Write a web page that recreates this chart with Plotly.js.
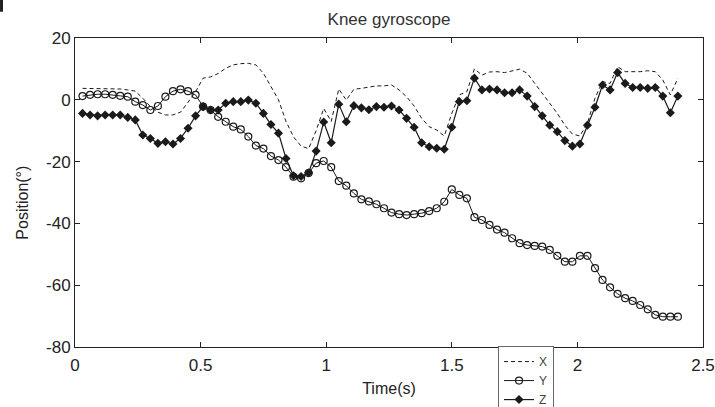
<!DOCTYPE html>
<html>
<head>
<meta charset="utf-8">
<script src="https://cdn.plot.ly/plotly-3.0.1.min.js"></script>
<style>
  html, body { margin: 0; padding: 0; background: #ffffff; }
  #chart { width: 715px; height: 407px; }
</style>
</head>
<body>
<div id="chart"></div>
<script>
// Time samples (s)
const time = [
  0.03,0.06,0.09,0.12,0.15,0.18,0.21,0.24,0.27,0.30,
  0.33,0.36,0.39,0.42,0.45,0.48,0.51,0.54,0.57,0.60,
  0.63,0.66,0.69,0.72,0.75,0.78,0.81,0.84,0.87,0.90,
  0.93,0.96,0.99,1.02,1.05,1.08,1.11,1.14,1.17,1.20,
  1.23,1.26,1.29,1.32,1.35,1.38,1.41,1.44,1.47,1.50,
  1.53,1.56,1.59,1.62,1.65,1.68,1.71,1.74,1.77,1.80,
  1.83,1.86,1.89,1.92,1.95,1.98,2.01,2.04,2.07,2.10,
  2.13,2.16,2.19,2.22,2.25,2.28,2.31,2.34,2.37,2.40
];

// X position (deg)
const seriesX = [
  3.7,3.7,3.7,3.7,3.7,3.5,3.2,2.8,0.5,-2.2,
  -4.0,-4.9,-4.9,-4.0,-0.8,2.6,7.0,7.4,8.5,10.2,
  11.3,11.7,11.8,11.3,8.6,4.5,0.0,-7.0,-12.0,-15.0,
  -15.8,-10.0,-2.8,-7.0,3.5,-0.1,3.4,3.7,4.0,4.5,
  4.5,4.8,3.2,1.0,-2.0,-6.0,-8.7,-9.8,-11.7,-4.4,
  1.6,2.6,10.0,8.0,9.0,9.1,8.8,9.4,9.9,8.6,
  5.3,2.1,-1.1,-4.4,-8.2,-11.1,-11.7,-7.6,0.5,5.9,
  5.3,10.7,9.1,9.1,9.1,9.4,9.1,6.4,1.6,7.0
];

// Y position (deg)
const seriesY = [
  1.2,1.6,1.8,1.8,1.6,1.3,1.0,-0.6,-1.7,-3.3,
  -2.0,1.0,2.8,3.4,2.8,1.6,-2.2,-3.3,-5.5,-7.1,
  -8.7,-9.6,-11.9,-14.8,-15.8,-18.2,-19.5,-21.8,-24.9,-25.4,
  -23.7,-20.5,-19.8,-21.8,-26.3,-27.8,-30.3,-32.2,-32.9,-33.8,
  -35.1,-36.5,-37.0,-37.3,-37.0,-36.7,-36.0,-35.1,-33.0,-29.0,
  -30.8,-31.9,-38.0,-38.9,-40.5,-42.0,-43.0,-44.8,-46.4,-47.0,
  -47.3,-47.5,-48.6,-50.5,-52.4,-52.4,-50.5,-50.5,-54.5,-58.3,
  -60.7,-62.8,-64.2,-65.1,-66.4,-67.8,-69.6,-70.2,-70.2,-70.2
];

// Z position (deg)
const seriesZ = [
  -4.4,-4.9,-5.2,-4.9,-4.9,-4.9,-5.7,-6.5,-11.4,-12.5,
  -14.1,-13.6,-14.3,-12.5,-9.2,-5.2,-2.2,-3.3,-3.3,-1.1,
  -0.6,-0.6,-0.1,-1.1,-4.4,-8.0,-10.8,-19.0,-24.6,-24.8,
  -23.6,-16.6,-7.2,-13.9,-1.4,-7.1,-1.9,-2.6,-3.2,-2.2,
  -2.4,-2.0,-3.3,-6.0,-8.9,-13.9,-15.2,-15.7,-16.0,-8.9,
  -0.6,-0.3,7.0,3.2,3.5,3.2,2.3,2.3,3.2,1.2,
  -2.2,-5.2,-8.2,-10.3,-13.2,-15.0,-14.3,-8.2,-2.4,4.8,
  3.2,8.8,5.3,4.0,4.0,3.7,4.0,1.2,-4.2,1.2
];

const seriesNames = ["X", "Y", "Z"];
const xTickVals = [0, 0.5, 1, 1.5, 2, 2.5];
const xTickText = ["0", "0.5", "1", "1.5", "2", "2.5"];
const yTickVals = [20, 0, -20, -40, -60, -80];
const yTickText = ["20", "0", "-20", "-40", "-60", "-80"];

const ink = "#1a1a1a";
const fontFamily = "'Liberation Sans', Arial, sans-serif";

const traces = [
  {
    x: time, y: seriesX, name: seriesNames[0], type: "scatter", mode: "lines",
    line: { color: ink, width: 1, dash: "4px,3px" }
  },
  {
    x: time, y: seriesY, name: seriesNames[1], type: "scatter", mode: "lines+markers",
    line: { color: ink, width: 1 },
    marker: { symbol: "circle-open", size: 7, color: ink, line: { width: 1.2, color: ink } }
  },
  {
    x: time, y: seriesZ, name: seriesNames[2], type: "scatter", mode: "lines+markers",
    line: { color: ink, width: 1.2 },
    marker: { symbol: "diamond", size: 7, color: ink }
  }
];

const layout = {
  width: 715, height: 407,
  paper_bgcolor: "#ffffff", plot_bgcolor: "#ffffff",
  margin: { l: 75, r: 12, t: 38, b: 60, autoexpand: false },
  font: { family: fontFamily, color: "#222", size: 16 },
  title: {
    text: "Knee gyroscope",
    font: { family: fontFamily, size: 17, color: "#333" },
    x: 0.5, xref: "paper", xanchor: "center",
    y: 0.952, yref: "container", yanchor: "middle"
  },
  xaxis: {
    range: [0, 2.5], tickvals: xTickVals, ticktext: xTickText,
    ticks: "inside", ticklen: 5, tickwidth: 1, tickcolor: "#222",
    showline: true, linecolor: "#222", linewidth: 1, mirror: "ticks",
    showgrid: false, zeroline: false, ticklabelstandoff: 3,
    tickfont: { family: fontFamily, size: 17, color: "#222" },
    title: { text: "Time(s)", font: { family: fontFamily, size: 16, color: "#222" }, standoff: 8 }
  },
  yaxis: {
    range: [-80, 20], tickvals: yTickVals, ticktext: yTickText,
    ticks: "inside", ticklen: 5, tickwidth: 1, tickcolor: "#222",
    showline: true, linecolor: "#222", linewidth: 1, mirror: "ticks",
    showgrid: false, zeroline: false,
    tickfont: { family: fontFamily, size: 17, color: "#222" }
  },
  annotations: [
    {
      text: "Position(°)", xref: "paper", yref: "paper",
      x: -0.084, y: 0.468, xanchor: "center", yanchor: "middle",
      textangle: -90, showarrow: false,
      font: { family: fontFamily, size: 16, color: "#222" }
    }
  ],
  shapes: [
    {
      type: "rect", xref: "paper", yref: "paper",
      x0: -0.1194, x1: -0.1146, y0: 1.085, y1: 1.123,
      fillcolor: "#222", line: { width: 0 }
    }
  ],
  showlegend: true,
  legend: {
    x: 0.6736, y: 0.003, xanchor: "left", yanchor: "top",
    bgcolor: "#ffffff", bordercolor: "#666", borderwidth: 1,
    font: { family: fontFamily, size: 12, color: "#444" },
    itemwidth: 30, tracegroupgap: 0
  }
};

Plotly.newPlot("chart", traces, layout, { displayModeBar: false, staticPlot: true });
</script>
</body>
</html>
